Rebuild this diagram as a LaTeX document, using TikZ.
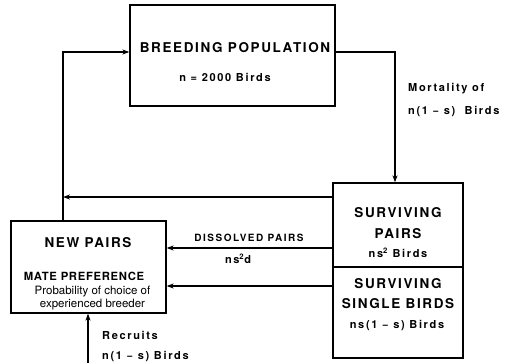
\documentclass[tikz,border=0pt]{standalone}
\usepackage{fontspec}
\setmainfont{TeX Gyre Heros}
\newfontfamily\wide[LetterSpace=12]{TeX Gyre Heros}
\newfontfamily\midsp[LetterSpace=15]{TeX Gyre Heros}
\newfontfamily\mildsp[LetterSpace=6]{TeX Gyre Heros}
\usetikzlibrary{arrows.meta}
\begin{document}
\begin{tikzpicture}[x=1pt,y=-1pt,
  box/.style={draw,line width=1.3pt,inner sep=0pt},
  conn/.style={line width=1.1pt},
  arr/.style={conn,-{Stealth[length=7pt,width=5pt]}},
  big/.style={font=\wide\bfseries\fontsize{13.5}{15}\selectfont,inner sep=0pt},
  small/.style={font=\midsp\bfseries\fontsize{11}{13}\selectfont,inner sep=0pt},
  plain/.style={font=\fontsize{11.5}{13}\selectfont,inner sep=0pt}]
\useasboundingbox (0,0) rectangle (514,363);
% boxes
\node[box,minimum width=205pt,minimum height=101pt] (bp) at (232.5,55.5) {};
\node[box,minimum width=130pt,minimum height=84pt] (sp) at (398,225) {};
\node[box,minimum width=130pt,minimum height=91pt] (ss) at (398,312.5) {};
\node[box,minimum width=155pt,minimum height=92pt] (np) at (88.5,267) {};
% texts
\node[big] (t1) at (235,48) {BREEDING POPULATION};
\node[small] (t2) at (225,77) {n = 2000 Birds};
\node[small,anchor=west] (t3) at (408,89) {Mortality of};
\node[small,anchor=west] (t4) at (408,112) {n(1 − s)\ \ Birds};
\node[big] (t5) at (398,213) {SURVIVING};
\node[big] (t6) at (398,234) {PAIRS};
\node[small] (t7) at (398,253) {ns\textsuperscript{2} Birds};
\node[big] (t8) at (398,284) {SURVIVING};
\node[big] (t9) at (398,304) {SINGLE BIRDS};
\node[small] (t10) at (397,326) {ns(1 − s) Birds};
\node[big] (t11) at (88,243) {NEW PAIRS};
\node[font=\mildsp\bfseries\fontsize{11.3}{13}\selectfont,inner sep=0pt] (t12) at (84,276) {MATE PREFERENCE};
\node[plain] (t13) at (92.5,292) {Probability of choice of};
\node[plain] (t14) at (92.5,305) {experienced breeder};
\node[font=\midsp\bfseries\fontsize{10}{12}\selectfont,inner sep=0pt] (t15) at (249,238) {DISSOLVED PAIRS};
\node[small] (t16) at (238,259) {ns\textsuperscript{2}d};
\node[small,anchor=west] (t17) at (102,335) {Recruits};
\node[small,anchor=west] (t18) at (102,357) {n(1 − s) Birds};
% helper coordinates
\coordinate (lx) at (63,0);
\coordinate (my) at (0,52);
\coordinate (mx) at (395,0);
\coordinate (ra) at (88,363);
% connectors
\draw[arr] (bp.east |- my) -| (mx |- sp.north);
\draw[arr] (np.north -| lx) |- (bp.west |- my);
\draw[arr] (sp.west |- 0,197) -- (lx |- 0,197);
\draw[arr] (sp.west |- 0,248) -- (np.east |- 0,248);
\draw[arr] (ss.west |- 0,286) -- (np.east |- 0,286);
\draw[arr] (ra) -- (ra |- np.south);
\end{tikzpicture}
\end{document}
